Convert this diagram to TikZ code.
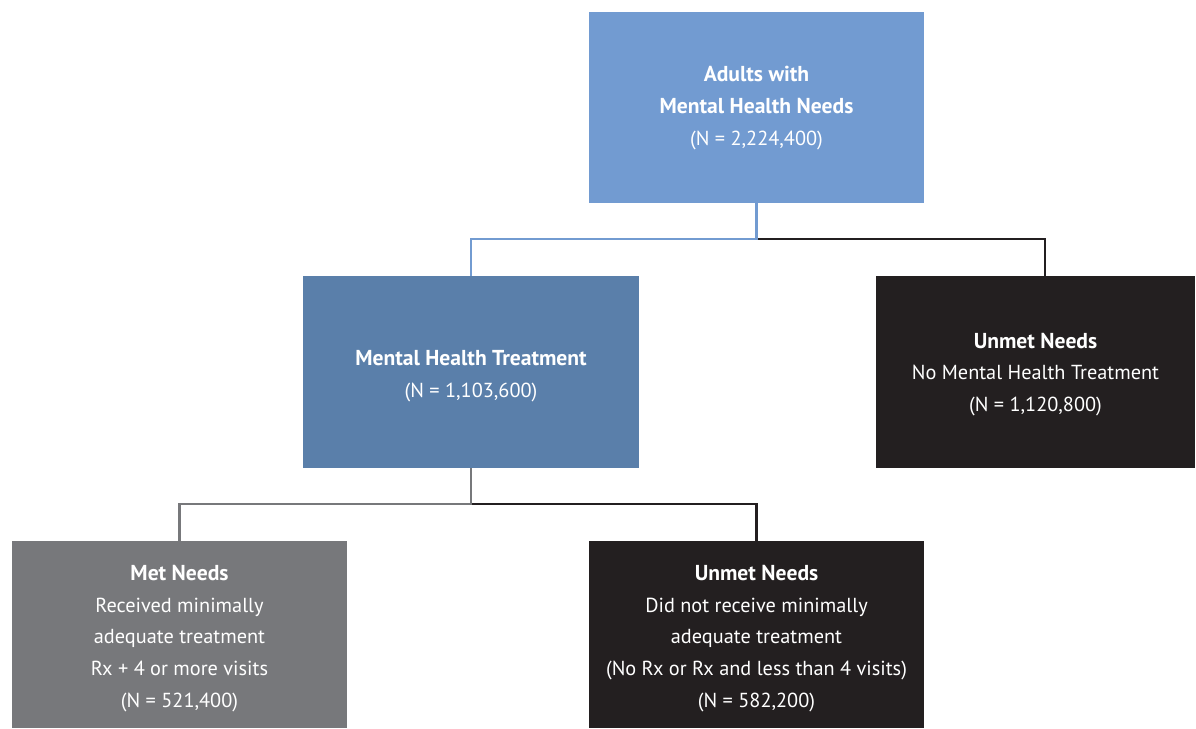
\documentclass[tikz,border=0pt]{standalone}
\usepackage{fontspec}
\setmainfont{PT Sans}
\definecolor{topblue}{HTML}{729BD1}
\definecolor{midblue}{HTML}{5A7FAA}
\definecolor{darkbox}{HTML}{231F20}
\definecolor{greybox}{HTML}{77787B}
\newcommand{\hd}[1]{{\fontsize{21.6}{31.6}\selectfont\bfseries #1}}
\begin{document}
\begin{tikzpicture}[x=1pt,y=-1pt,
  box/.style={rectangle,draw=none,inner sep=0pt},
  txt/.style={text=white,align=center,inner sep=0pt,
    font=\fontsize{20.3}{31.6}\selectfont},
  conn/.style={line width=2.3pt}]
\useasboundingbox (0,0) rectangle (1196,728);
\node[box,fill=topblue,minimum width=335pt,minimum height=191pt] (top) at (756.5,107.5) {};
\node[box,fill=midblue,minimum width=336pt,minimum height=192pt] (ml) at (471,372) {};
\node[box,fill=darkbox,minimum width=319pt,minimum height=192pt] (mr) at (1035.5,372) {};
\node[box,fill=greybox,minimum width=335pt,minimum height=187pt] (bl) at (179.5,634.5) {};
\node[box,fill=darkbox,minimum width=335pt,minimum height=187pt] (br) at (756.5,634.5) {};
\node[txt] (topt) at ([yshift=-0.5pt]top.center)
  {\hd{Adults with}\\\hd{Mental Health Needs}\\(N = 2,224,400)};
\node[txt] (mlt) at ([yshift=-4pt]ml.center)
  {\hd{Mental Health Treatment}\\(N = 1,103,600)};
\node[txt] (mrt) at ([yshift=-2.5pt]mr.center)
  {\hd{Unmet Needs}\\No Mental Health Treatment\\(N = 1,120,800)};
\node[txt] (blt) at ([yshift=-4pt]bl.center)
  {\hd{Met Needs}\\Received minimally\\adequate treatment\\Rx + 4 or more visits\\(N = 521,400)};
\node[txt] (brt) at ([yshift=-4pt]br.center)
  {\hd{Unmet Needs}\\Did not receive minimally\\adequate treatment\\(No Rx or Rx and less than 4 visits)\\(N = 582,200)};
% connectors from top
\draw[conn,draw=darkbox] (top.south) ++(0,36) -| ([xshift=9.5pt]mr.north);
\draw[conn,draw=topblue] (top.south) -- ++(0,36) -| (ml.north);
% connectors from middle
\draw[conn,draw=darkbox] (ml.south) ++(0,36) -| (br.north);
\draw[conn,draw=greybox] (ml.south) -- ++(0,36) -| (bl.north);
\end{tikzpicture}
\end{document}
